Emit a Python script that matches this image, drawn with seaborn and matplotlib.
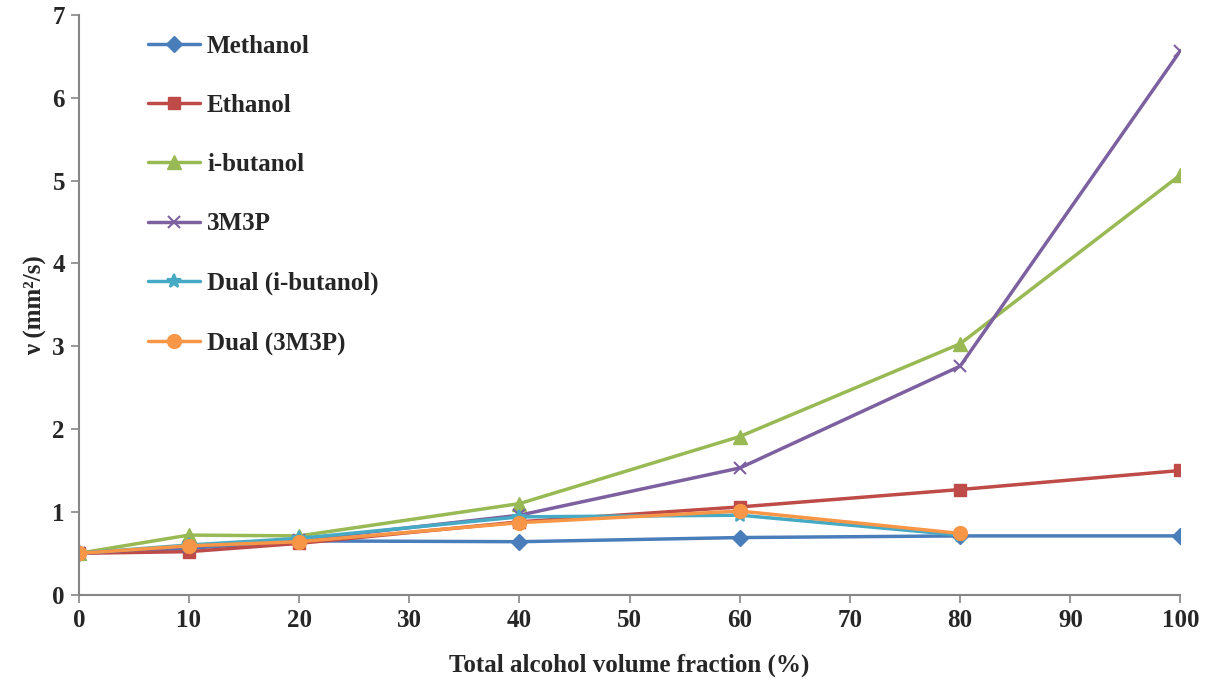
import matplotlib
matplotlib.use("Agg")
import matplotlib.pyplot as plt
import seaborn as sns
import pandas as pd

x_frac = [0, 10, 20, 40, 60, 80, 100]
x_dual = [0, 10, 20, 40, 60, 80]
methanol = [0.50, 0.56, 0.65, 0.64, 0.69, 0.71, 0.71]
ethanol = [0.50, 0.52, 0.62, 0.88, 1.06, 1.27, 1.50]
ibutanol = [0.50, 0.72, 0.71, 1.10, 1.91, 3.03, 5.07]
m3p = [0.50, 0.58, 0.66, 0.96, 1.53, 2.76, 6.57]
dual_ib = [0.50, 0.60, 0.68, 0.94, 0.96, 0.72]
dual_3m = [0.50, 0.59, 0.64, 0.87, 1.01, 0.74]

labels = ["Methanol", "Ethanol", "i-butanol", "3M3P", "Dual (i-butanol)", "Dual (3M3P)"]
colors = ["#4A7EBB", "#BE4B48", "#98B954", "#7D60A0", "#46AAC5", "#F79646"]
markers = ["D", "s", "^", "x", "*", "o"]
sizes = [8, 9, 10, 9, 10, 10]

sns.set_style("white")
plt.rcParams['font.family'] = ['Liberation Serif', 'DejaVu Serif']
plt.rcParams['font.weight'] = 'bold'

fig = plt.figure(figsize=(12.12, 6.82), dpi=100)
ax = fig.add_axes([0.065, 0.128, 0.909, 0.85])

series = [(x_frac, methanol), (x_frac, ethanol), (x_frac, ibutanol),
          (x_frac, m3p), (x_dual, dual_ib), (x_dual, dual_3m)]
for (xs, ys), lab, c, m, s in zip(series, labels, colors, markers, sizes):
    df = pd.DataFrame({"x": xs, "y": ys})
    kw = dict(markeredgecolor=c, markeredgewidth=1.5 if m in "x*" else 1)
    sns.lineplot(data=df, x="x", y="y", ax=ax, color=c, marker=m, markersize=s,
                 linewidth=2.5, label=lab, **kw)

ax.set_xlim(0, 100)
ax.set_ylim(0, 7)
ax.set_xticks(range(0, 101, 10))
ax.set_yticks(range(0, 8))
ax.tick_params(axis='both', labelsize=18, direction='out', length=6, width=1.2,
               color='#868686', left=True, bottom=True, pad=4)
for lab in ax.get_xticklabels() + ax.get_yticklabels():
    lab.set_fontweight('bold')
for sp in ["top", "right"]:
    ax.spines[sp].set_visible(False)
for sp in ["left", "bottom"]:
    ax.spines[sp].set_color('#868686')
    ax.spines[sp].set_linewidth(1.5)

ax.set_xlabel("Total alcohol volume fraction (%)", fontsize=18, fontweight='bold', labelpad=16)
ax.set_ylabel("ν (mm²/s)", fontsize=18, fontweight='bold', labelpad=4)

leg = ax.legend(loc='upper left', bbox_to_anchor=(0.042, 1.005), frameon=False,
                labelspacing=1.45, handlelength=2.1, handletextpad=0.28,
                prop={'weight': 'bold', 'size': 18})

fig.savefig("out.png", dpi=100)
